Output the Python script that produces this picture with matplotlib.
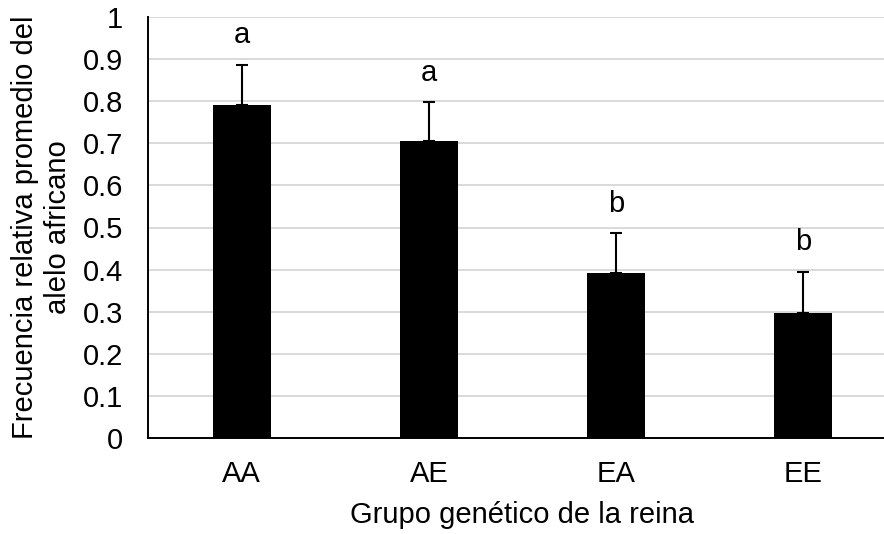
import matplotlib
matplotlib.use("Agg")
import matplotlib.pyplot as plt

# Mean relative frequency of the African allele per queen genetic group
groups = ["AA", "AE", "EA", "EE"]
means = [0.79, 0.705, 0.393, 0.297]
errors = [0.096, 0.092, 0.093, 0.098]
letters = ["a", "a", "b", "b"]

plt.rcParams["font.family"] = ["Liberation Sans", "DejaVu Sans"]
FS = 21

fig = plt.figure(figsize=(8.84, 5.34), dpi=100)
ax = fig.add_axes([148 / 884, 96 / 534, 749 / 884, 421 / 534])

x = range(len(groups))
ax.bar(x, means, width=0.31, color="black", zorder=3)
ax.errorbar(x, means, yerr=[[0] * len(errors), errors], fmt="none",
            ecolor="black", elinewidth=1.5, capsize=4, capthick=1.5, zorder=4)

# significance letters above each error bar
for xi, m, e, lab in zip(x, means, errors, letters):
    ax.text(xi, m + e + 0.052, lab, ha="center", va="baseline", fontsize=FS)

ax.set_xlim(-0.5, 3.5)
ax.set_ylim(0, 1)
ax.set_yticks([i / 10 for i in range(11)])
ax.set_yticklabels(["0"] + [f"{i / 10:.1f}" for i in range(1, 10)] + ["1"])
ax.set_xticks(list(x))
ax.set_xticklabels(groups)
ax.tick_params(axis="both", length=0, labelsize=FS)
ax.tick_params(axis="x", pad=16)
ax.tick_params(axis="y", pad=18)

ax.yaxis.grid(True, color="#d9d9d9", linewidth=1.4, zorder=0)
ax.set_axisbelow(True)
for side in ("top", "right"):
    ax.spines[side].set_visible(False)
ax.spines["left"].set_linewidth(1.4)
ax.spines["bottom"].set_linewidth(1.4)

ax.set_xlabel("Grupo genético de la reina", fontsize=FS, labelpad=9)
ax.set_ylabel("Frecuencia relativa promedio del\nalelo africano", fontsize=FS,
              labelpad=8)

fig.savefig("out.png", dpi=100)
